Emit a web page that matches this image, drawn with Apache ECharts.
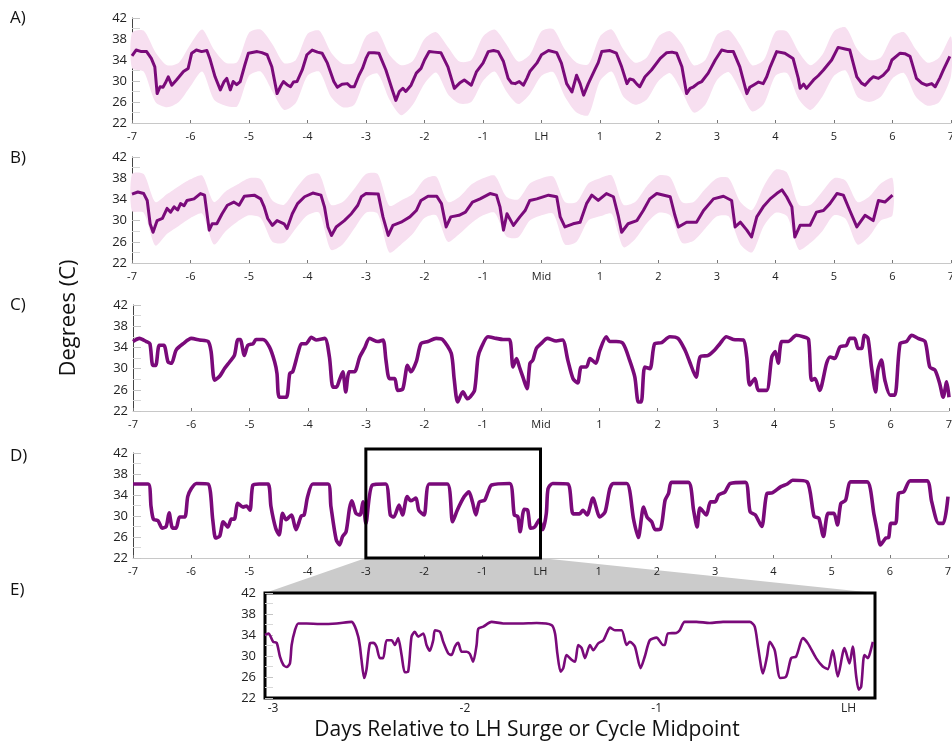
<!DOCTYPE html>
<html><head><meta charset="utf-8">
<script src="https://cdn.jsdelivr.net/npm/echarts@6/dist/echarts.min.js"></script>
<style>html,body{margin:0;padding:0;background:#fff}#c{width:952px;height:746px}</style>
</head><body><div id="c"></div>
<script>
// ---------- tick labels ----------
const xTickLH  = ['-7','-6','-5','-4','-3','-2','-1','LH','1','2','3','4','5','6','7'];
const xTickMid = ['-7','-6','-5','-4','-3','-2','-1','Mid','1','2','3','4','5','6','7'];
const eTickValues = [-3, -2, -1, 0];
const eTickLabels = ['-3', '-2', '-1', 'LH'];
const yTicks = [22, 26, 30, 34, 38, 42];
const panelLetters = ['A)', 'B)', 'C)', 'D)', 'E)'];

// ---------- Panel A: mean and band ----------
const aDays = [-7.00,-6.93,-6.84,-6.75,-6.67,-6.61,-6.57,-6.52,-6.47,-6.43,
-6.38,-6.32,-6.24,-6.18,-6.12,-6.04,-5.98,-5.90,-5.81,-5.72,
-5.67,-5.58,-5.49,-5.43,-5.38,-5.32,-5.27,-5.21,-5.15,-5.07,
-5.01,-4.86,-4.78,-4.69,-4.61,-4.52,-4.46,-4.41,-4.35,-4.29,
-4.24,-4.18,-4.09,-4.01,-3.92,-3.83,-3.75,-3.66,-3.55,-3.49,
-3.41,-3.32,-3.26,-3.20,-3.12,-3.06,-3.00,-2.95,-2.86,-2.78,
-2.66,-2.55,-2.49,-2.43,-2.37,-2.32,-2.23,-2.14,-2.06,-2.00,
-1.92,-1.83,-1.72,-1.60,-1.49,-1.40,-1.32,-1.20,-1.11,-1.00,
-0.91,-0.82,-0.74,-0.65,-0.57,-0.51,-0.45,-0.38,-0.31,-0.25,
-0.20,-0.08,0.00,0.12,0.26,0.34,0.43,0.52,0.60,0.66,
0.72,0.80,0.91,0.97,1.03,1.17,1.28,1.37,1.46,1.51,
1.57,1.63,1.68,1.77,1.88,2.03,2.14,2.23,2.31,2.40,
2.48,2.54,2.60,2.68,2.74,2.85,2.97,3.08,3.19,3.28,
3.39,3.51,3.56,3.62,3.71,3.79,3.85,3.91,4.02,4.16,
4.30,4.39,4.42,4.48,4.53,4.65,4.73,4.82,4.96,5.07,
5.19,5.27,5.39,5.47,5.53,5.61,5.67,5.76,5.84,5.93,
5.99,6.13,6.21,6.30,6.41,6.50,6.58,6.67,6.73,6.81,
6.87,6.98];
const aMean = [34.8,35.9,35.6,35.6,34.3,32.7,27.6,28.9,28.8,29.6,
30.8,29.2,30.2,31.0,31.8,32.4,35.3,35.9,35.6,35.8,
34.3,30.8,28.3,29.8,30.5,28.3,29.9,29.3,29.9,33.1,
35.3,35.6,35.4,35.0,32.7,27.6,29.0,29.9,29.3,28.9,
29.8,29.9,32.1,35.0,35.9,35.5,35.3,33.4,29.9,28.8,
29.4,29.5,28.9,28.9,31.1,32.4,34.3,35.4,35.4,35.3,
32.1,28.3,26.3,28.0,28.6,28.0,29.2,31.5,32.4,34.0,
35.6,35.5,35.4,32.7,28.6,29.6,30.2,29.2,31.8,33.4,
35.6,35.8,35.6,33.7,30.5,29.6,29.5,29.9,29.2,30.5,
31.8,33.4,35.0,35.8,35.4,33.4,29.5,27.9,31.1,29.5,
27.3,29.5,32.1,33.5,35.6,35.8,35.3,32.7,29.5,30.4,
30.2,29.4,28.9,30.8,32.1,34.3,35.4,35.5,35.3,32.7,
27.6,28.6,28.9,29.6,29.9,31.5,34.0,35.9,35.6,35.6,
32.7,27.6,28.8,29.2,29.8,29.5,30.8,32.7,35.6,35.3,
34.3,30.5,28.6,29.4,28.6,30.2,31.0,32.1,34.0,36.4,
36.1,35.9,30.8,29.6,29.2,30.2,30.8,30.5,31.1,32.2,
34.0,35.3,35.2,34.7,30.5,29.6,29.2,29.5,28.9,30.6,
32.1,34.7];
const aBandDays = [-7.0,-6.8,-6.6,-6.4,-6.2,-6.0,-5.8,-5.6,-5.4,-5.2,
-5.0,-4.8,-4.6,-4.4,-4.2,-4.0,-3.8,-3.6,-3.4,-3.2,
-3.0,-2.8,-2.6,-2.4,-2.2,-2.0,-1.8,-1.6,-1.4,-1.2,
-1.0,-0.8,-0.6,-0.4,-0.2,0.0,0.2,0.4,0.6,0.8,
1.0,1.2,1.4,1.6,1.8,2.0,2.2,2.4,2.6,2.8,
3.0,3.2,3.4,3.6,3.8,4.0,4.2,4.4,4.6,4.8,
5.0,5.2,5.4,5.6,5.8,6.0,6.2,6.4,6.6,6.8,7.0];
const aBandHi = [39.2,39.6,35.5,33.0,33.5,37.0,39.8,36.0,33.5,33.6,
39.2,39.8,37.0,33.4,34.0,39.0,39.6,35.5,33.3,33.5,
38.5,39.4,35.0,33.0,33.8,38.0,39.3,36.5,33.7,34.0,
38.5,39.8,37.0,33.7,35.0,39.5,39.9,36.0,33.5,33.2,
38.5,39.8,36.0,33.5,34.5,38.5,39.5,37.0,33.0,34.0,
38.8,39.7,36.8,33.0,34.0,39.4,39.4,35.5,33.0,35.0,
39.5,40.2,36.0,34.0,34.5,38.5,39.3,36.0,33.5,34.5,38.5];
const aBandLo = [32.5,31.8,26.0,25.0,26.0,29.0,31.8,26.5,25.3,25.2,
31.0,31.8,28.0,24.5,25.8,31.0,31.8,27.0,25.0,25.5,
30.5,31.4,26.5,23.5,25.5,29.5,31.6,27.5,25.7,26.0,
30.0,31.8,28.0,25.6,27.5,31.0,31.7,27.0,24.0,23.5,
30.0,31.8,27.0,25.5,26.5,30.0,31.5,28.0,24.0,25.5,
30.2,31.7,28.0,24.2,25.6,31.0,31.5,26.5,24.5,27.0,
31.0,32.0,27.0,26.0,27.0,30.5,31.5,27.0,25.3,26.0,31.0];

// ---------- Panel B: mean and band ----------
const bDays = [-7.00,-6.90,-6.80,-6.74,-6.69,-6.64,-6.57,-6.48,-6.40,-6.34,
-6.28,-6.22,-6.17,-6.11,-6.06,-5.94,-5.83,-5.76,-5.68,-5.63,
-5.55,-5.46,-5.37,-5.26,-5.17,-5.08,-4.91,-4.80,-4.74,-4.68,
-4.60,-4.52,-4.40,-4.35,-4.26,-4.17,-4.05,-3.91,-3.77,-3.71,
-3.65,-3.59,-3.51,-3.37,-3.25,-3.14,-3.08,-3.00,-2.79,-2.71,
-2.62,-2.54,-2.40,-2.25,-2.14,-2.06,-1.94,-1.79,-1.71,-1.63,
-1.55,-1.41,-1.30,-1.18,-1.05,-0.88,-0.77,-0.71,-0.65,-0.59,
-0.48,-0.37,-0.28,-0.20,-0.08,0.12,0.26,0.32,0.40,0.54,
0.66,0.77,0.86,0.97,1.11,1.23,1.31,1.37,1.48,1.63,
1.74,1.85,1.97,2.20,2.28,2.34,2.48,2.65,2.77,2.94,
3.11,3.25,3.31,3.40,3.51,3.59,3.68,3.79,3.91,4.02,
4.11,4.19,4.28,4.33,4.42,4.59,4.70,4.82,4.93,5.05,
5.16,5.27,5.39,5.53,5.67,5.76,5.87,6.00];
const bMean = [35.0,35.4,35.1,33.8,29.4,27.8,30.0,30.4,32.3,31.6,
32.6,32.0,33.2,32.8,33.8,34.1,35.1,34.8,28.2,29.4,
29.4,31.3,32.9,33.5,32.9,34.6,34.8,34.1,32.6,30.4,
29.1,30.0,29.4,28.5,31.3,33.2,34.5,35.2,34.8,32.6,
28.8,27.2,28.8,30.0,31.3,32.9,34.5,35.1,35.0,30.7,
27.2,29.1,29.7,30.7,31.9,33.8,34.6,34.6,33.2,28.8,
30.7,31.0,31.6,33.5,34.1,35.1,34.8,32.6,28.2,31.3,
29.1,30.7,31.9,33.8,34.1,34.8,34.5,30.7,28.8,29.4,
29.7,33.2,34.8,33.8,35.1,34.5,31.0,27.8,29.4,30.0,
31.9,34.1,35.1,34.5,31.0,28.8,29.7,29.7,31.9,34.1,
34.6,33.8,28.8,29.7,28.2,26.9,30.7,32.6,34.1,35.1,
35.8,34.5,32.6,26.9,29.1,29.1,31.6,31.9,33.2,35.1,
34.8,31.9,28.8,31.0,30.0,33.8,33.5,34.8];
const bBandDays = [-7.0,-6.8,-6.6,-6.4,-6.2,-6.0,-5.8,-5.6,-5.4,-5.2,
-5.0,-4.8,-4.6,-4.4,-4.2,-4.0,-3.8,-3.6,-3.4,-3.2,
-3.0,-2.8,-2.6,-2.4,-2.2,-2.0,-1.8,-1.6,-1.4,-1.2,
-1.0,-0.8,-0.6,-0.4,-0.2,0.0,0.2,0.4,0.6,0.8,
1.0,1.2,1.4,1.6,1.8,2.0,2.2,2.4,2.6,2.8,
3.0,3.2,3.4,3.6,3.8,4.0,4.2,4.4,4.6,4.8,
5.0,5.2,5.4,5.6,5.8,6.0];
const bBandHi = [38.8,38.8,33.5,35.0,36.5,37.8,38.5,33.5,35.5,36.8,
38.0,37.8,33.8,33.0,36.0,38.5,38.8,33.0,33.5,36.0,
38.8,38.8,32.8,33.8,35.0,37.8,38.3,33.5,34.5,36.8,
38.0,38.5,34.5,34.0,37.0,38.0,38.3,33.5,33.5,37.0,
38.0,38.5,33.0,33.5,36.5,38.5,38.2,33.5,33.5,36.0,
38.0,38.0,33.5,32.0,36.5,39.6,39.0,33.0,33.0,35.5,
38.0,37.5,33.5,34.5,37.0,38.0];
const bBandLo = [31.8,31.5,25.3,27.5,29.0,30.5,31.3,25.5,28.0,29.8,
31.0,30.5,26.0,25.8,28.5,31.0,31.5,24.5,25.5,28.5,
31.5,31.3,24.0,25.5,27.5,30.5,31.0,26.0,27.5,29.5,
31.0,31.5,27.0,26.8,30.0,31.0,31.3,25.5,26.0,30.0,
30.8,31.3,25.0,26.5,29.5,31.5,31.0,25.8,26.2,28.5,
30.8,30.8,25.5,24.0,29.0,31.5,30.8,24.5,25.8,28.0,
31.0,30.3,25.5,27.0,30.0,31.0];

// ---------- Panel C ----------
const cDays = [-7.00,-6.89,-6.77,-6.71,-6.66,-6.61,-6.55,-6.47,-6.40,-6.34,
-6.26,-6.14,-6.00,-5.86,-5.71,-5.66,-5.60,-5.51,-5.43,-5.34,
-5.26,-5.20,-5.16,-5.09,-5.03,-4.94,-4.89,-4.77,-4.66,-4.57,
-4.53,-4.49,-4.37,-4.31,-4.26,-4.17,-4.11,-4.03,-3.94,-3.86,
-3.71,-3.63,-3.57,-3.51,-3.46,-3.40,-3.35,-3.29,-3.20,-3.11,
-3.03,-2.94,-2.80,-2.71,-2.66,-2.60,-2.51,-2.46,-2.37,-2.29,
-2.23,-2.14,-2.06,-1.94,-1.80,-1.69,-1.54,-1.49,-1.43,-1.34,
-1.26,-1.22,-1.14,-1.08,-1.02,-0.91,-0.77,-0.65,-0.54,-0.48,
-0.42,-0.37,-0.31,-0.24,-0.19,-0.14,-0.08,0.00,0.11,0.26,
0.37,0.46,0.55,0.63,0.69,0.78,0.84,0.94,1.01,1.12,
1.18,1.29,1.41,1.52,1.61,1.67,1.72,1.78,1.87,1.95,
2.07,2.21,2.35,2.47,2.55,2.66,2.73,2.87,2.98,3.07,
3.18,3.30,3.47,3.53,3.58,3.67,3.73,3.87,3.96,4.02,
4.07,4.13,4.24,4.38,4.50,4.59,4.64,4.70,4.78,4.90,
4.96,5.04,5.13,5.24,5.30,5.38,5.44,5.50,5.55,5.61,
5.67,5.74,5.78,5.84,5.90,5.99,6.07,6.16,6.27,6.36,
6.47,6.59,6.67,6.76,6.84,6.90,6.96,7.00];
const cTemp = [35.1,35.7,35.1,34.7,30.6,30.6,34.4,34.4,31.3,31.0,
33.5,34.7,35.7,35.4,35.1,33.2,27.8,28.6,30.0,31.3,
32.5,35.5,35.5,32.5,34.4,34.7,35.5,35.5,34.1,31.3,
29.1,24.6,24.6,29.1,29.4,32.9,34.7,34.7,35.9,35.4,
35.7,32.2,26.5,26.5,27.8,29.4,25.6,29.4,29.4,32.2,
33.8,35.7,35.1,35.4,31.6,28.1,28.1,25.9,26.2,30.6,
29.4,31.3,34.7,35.1,35.7,35.5,32.9,28.1,23.7,25.6,
24.3,24.6,25.9,32.2,34.1,36.0,35.7,35.5,35.5,30.3,
31.9,30.3,28.4,26.2,31.0,31.6,33.8,34.7,35.7,35.2,
35.4,31.6,28.1,27.3,30.3,30.3,31.9,31.0,33.5,36.0,
35.1,35.1,34.7,31.6,28.4,23.7,23.7,30.3,30.0,34.7,
34.9,36.0,35.7,33.5,31.3,28.4,32.2,32.5,33.5,34.7,
36.0,35.5,35.4,32.2,26.9,28.1,25.9,25.9,32.2,33.2,
31.0,35.1,35.1,36.3,36.0,35.5,27.8,28.1,25.9,31.0,
32.2,31.9,34.1,34.4,35.7,35.7,33.8,33.8,36.3,35.7,
30.3,25.6,29.7,31.6,27.8,25.0,25.0,34.7,35.1,36.3,
35.7,35.1,30.3,29.7,27.2,24.6,27.5,24.6];

// ---------- Panel D ----------
const dDays = [-7.00,-6.74,-6.69,-6.65,-6.57,-6.50,-6.43,-6.38,-6.32,-6.26,
-6.20,-6.11,-6.06,-6.00,-5.91,-5.71,-5.63,-5.58,-5.51,-5.45,
-5.37,-5.31,-5.26,-5.20,-5.11,-5.05,-4.99,-4.94,-4.83,-4.68,
-4.63,-4.55,-4.49,-4.43,-4.37,-4.28,-4.20,-4.11,-4.06,-4.00,
-3.91,-3.65,-3.60,-3.51,-3.45,-3.40,-3.34,-3.28,-3.24,-3.17,
-3.10,-3.05,-3.00,-2.89,-2.66,-2.58,-2.52,-2.43,-2.37,-2.29,
-2.23,-2.14,-2.09,-2.00,-1.91,-1.60,-1.51,-1.43,-1.31,-1.23,
-1.17,-1.11,-1.05,-0.96,-0.90,-0.84,-0.53,-0.45,-0.39,-0.35,
-0.28,-0.22,-0.17,-0.10,-0.02,0.04,0.10,0.13,0.21,0.47,
0.56,0.67,0.73,0.80,0.90,1.02,1.11,1.19,1.25,1.48,
1.60,1.68,1.77,1.83,1.91,1.97,2.06,2.14,2.20,2.25,
2.54,2.63,2.69,2.74,2.85,2.92,3.00,3.06,3.17,3.26,
3.52,3.60,3.69,3.80,3.89,3.98,4.13,4.24,4.33,4.58,
4.70,4.78,4.86,4.94,5.04,5.10,5.16,5.24,5.33,5.61,
5.73,5.78,5.84,5.93,5.98,6.02,6.10,6.15,6.24,6.35,
6.64,6.72,6.84,6.92,7.00];
const dTemp = [36.1,36.1,31.8,29.4,29.1,27.7,28.0,30.6,27.7,27.7,
29.8,29.8,33.7,35.2,36.2,36.1,29.3,25.8,26.2,28.9,
27.9,29.4,29.4,32.4,31.7,31.9,31.1,35.9,36.1,36.1,
31.8,27.7,26.4,30.5,29.3,30.2,27.4,30.0,30.2,33.7,
36.1,36.1,31.8,25.5,24.5,26.1,27.0,31.5,32.9,30.5,
30.2,32.7,28.6,35.9,36.1,30.2,29.8,32.1,30.2,33.7,
32.9,33.4,31.1,30.2,36.1,36.1,28.9,31.1,33.7,34.6,
32.7,30.2,32.7,33.0,34.6,35.9,36.2,30.2,29.9,27.0,
31.3,31.1,27.7,27.9,29.3,27.4,30.5,35.2,36.2,36.1,
30.4,30.4,31.1,30.2,33.4,29.8,30.8,35.2,36.2,36.2,
29.3,25.9,31.7,29.8,28.9,27.4,27.5,33.0,34.3,36.4,
36.4,31.1,27.9,31.5,30.2,32.7,32.7,34.0,34.6,36.2,
36.4,30.8,30.2,28.0,34.3,34.4,35.6,36.1,36.8,36.5,
29.9,29.6,26.1,30.5,30.5,28.3,32.4,33.0,36.5,36.5,
30.2,27.4,24.5,25.8,25.9,28.6,28.6,34.3,34.6,36.7,
36.7,32.7,28.6,28.6,33.7];

// ---------- Panel E (zoom of D, -3 .. LH) ----------
const eRange = [-3.042, 0.138];
const eDays = [-3.042,-3.024,-2.999,-2.981,-2.964,-2.946,-2.929,-2.912,-2.903,-2.886,
-2.868,-2.825,-2.756,-2.669,-2.591,-2.573,-2.556,-2.547,-2.539,-2.525,
-2.513,-2.495,-2.478,-2.461,-2.443,-2.426,-2.408,-2.382,-2.365,-2.348,
-2.330,-2.313,-2.296,-2.278,-2.261,-2.243,-2.217,-2.200,-2.183,-2.165,
-2.156,-2.130,-2.113,-2.087,-2.070,-2.052,-2.035,-2.017,-1.991,-1.974,
-1.957,-1.939,-1.930,-1.904,-1.861,-1.800,-1.713,-1.626,-1.548,-1.530,
-1.518,-1.501,-1.487,-1.470,-1.444,-1.426,-1.409,-1.391,-1.374,-1.348,
-1.331,-1.305,-1.278,-1.261,-1.244,-1.218,-1.183,-1.157,-1.140,-1.114,
-1.084,-1.062,-1.036,-1.001,-0.967,-0.958,-0.941,-0.898,-0.880,-0.854,
-0.793,-0.724,-0.654,-0.585,-0.515,-0.489,-0.472,-0.446,-0.425,-0.411,
-0.385,-0.356,-0.325,-0.299,-0.273,-0.238,-0.212,-0.169,-0.134,-0.108,
-0.082,-0.056,-0.021,0.005,0.022,0.040,0.053,0.066,0.083,0.101,
0.109,0.127];
const eTemp = [34.0,34.3,32.7,32.5,29.9,28.3,27.9,28.6,32.1,34.9,
36.2,36.2,36.1,36.2,36.5,35.6,33.7,31.8,29.3,25.8,
27.4,32.4,32.5,31.8,29.6,29.6,33.0,33.0,32.1,33.4,
30.2,26.9,27.0,33.7,34.6,33.7,34.3,32.1,31.0,33.0,
34.9,34.6,32.7,30.5,30.2,31.8,32.5,30.8,30.8,30.4,
28.9,32.1,35.2,35.6,36.5,36.2,36.2,36.3,35.9,34.3,
30.5,27.0,27.7,30.2,29.3,28.9,32.1,31.5,29.6,32.1,
31.1,32.4,33.0,34.3,35.4,34.9,34.9,32.1,32.7,31.8,
27.7,29.9,33.0,33.5,32.1,32.1,34.3,34.4,34.9,36.5,
36.5,36.3,36.5,36.5,36.5,35.6,31.8,26.7,29.9,32.7,
31.1,25.8,26.1,29.6,29.9,33.4,32.4,29.6,28.0,27.5,
31.1,26.1,31.5,28.6,31.8,26.1,23.6,24.2,30.2,29.6,
30.2,32.7];

// ---------- styling ----------
const PURPLE = '#7a0a7a';
const BAND = '#f7dff0';
const FONT = 'Open Sans';

const grids = [
  {left: 132, top: 18,  width: 819, height: 105},
  {left: 132, top: 157, width: 819, height: 106},
  {left: 133, top: 305, width: 816, height: 106},
  {left: 133, top: 453, width: 815, height: 105},
  {left: 265, top: 593, width: 610, height: 105, show: true, borderColor: '#000', borderWidth: 3, backgroundColor: 'transparent'}
].map(g => Object.assign({outerBoundsMode: 'none', containLabel: false}, g));

function mainX(i, labels) {
  return {
    type: 'value', gridIndex: i, min: -7, max: 7, interval: 1,
    axisLine: {show: true, onZero: false, lineStyle: {color: '#c8c8c8', width: 1}},
    axisTick: {show: true, inside: true, length: 3, lineStyle: {color: '#777'}},
    axisLabel: {fontSize: 11, color: '#222', margin: 8, fontFamily: FONT, showMinLabel: true, showMaxLabel: true,
      formatter: v => labels[Math.round(v) + 7]},
    splitLine: {show: false}
  };
}
function mainY(i, showLine) {
  return {
    type: 'value', gridIndex: i, min: yTicks[0], max: yTicks[yTicks.length - 1], interval: 4,
    axisLine: {show: showLine, onZero: false, lineStyle: {color: '#444', width: 1}},
    axisTick: {show: true, inside: true, length: 8, lineStyle: {color: '#c4c4c4'}},
    minorTick: {show: true, splitNumber: 2, length: 8, lineStyle: {color: '#d8d8d8'}},
    axisLabel: {fontSize: 13, color: '#222', margin: showLine ? 5 : 9, fontFamily: FONT},
    splitLine: {show: false}
  };
}

const xAxes = [mainX(0, xTickLH), mainX(1, xTickMid), mainX(2, xTickMid), mainX(3, xTickLH), {
  type: 'value', gridIndex: 4, min: eRange[0], max: eRange[1],
  axisLine: {show: false, onZero: false}, axisTick: {show: false},
  axisLabel: {fontSize: 12, color: '#222', margin: 5, fontFamily: FONT, customValues: eTickValues,
    formatter: v => eTickLabels[eTickValues.indexOf(Math.round(v))] || ''},
  splitLine: {show: false}
}];
const yAxes = [mainY(0, true), mainY(1, true), mainY(2, true), mainY(3, true), mainY(4, false)];

function pairs(xs, ys) { return xs.map((x, i) => [x, ys[i]]); }
// band between lo and hi, drawn as one polygon through the axis scales
function band(idx, xs, lo, hi) {
  return {
    type: 'custom', xAxisIndex: idx, yAxisIndex: idx, silent: true, z: 1,
    data: xs.map((x, i) => [x, lo[i], hi[i]]),
    encode: {x: 0, y: [1, 2]},
    renderItem: function (params, api) {
      if (params.dataIndex !== 0) return null;
      const top = xs.map((x, i) => api.coord([x, hi[i]]));
      const bot = xs.map((x, i) => api.coord([x, lo[i]])).reverse();
      return {type: 'polygon', shape: {points: top.concat(bot), smooth: 0.25}, style: {fill: BAND}};
    }
  };
}
function trace(idx, xs, ys, width, smooth) {
  return {type: 'line', xAxisIndex: idx, yAxisIndex: idx, data: pairs(xs, ys), symbol: 'none',
    smooth: smooth, lineStyle: {color: PURPLE, width: width, join: 'round'}, silent: true, z: 3};
}

const series = [
  band(0, aBandDays, aBandLo, aBandHi),
  trace(0, aDays, aMean, 3, false),
  band(1, bBandDays, bBandLo, bBandHi),
  trace(1, bDays, bMean, 3, false),
  trace(2, cDays, cTemp, 3.6, 0.25),
  trace(3, dDays, dTemp, 3.6, 0.25),
  trace(4, eDays, eTemp, 2.6, 0.25)
];

const chart = echarts.init(document.getElementById('c'), null, {renderer: 'canvas'});
chart.setOption({
  animation: false,
  backgroundColor: '#fff',
  textStyle: {fontFamily: FONT},
  grid: grids, xAxis: xAxes, yAxis: yAxes, series: series
});

// decorations positioned through the axes
const dTL = chart.convertToPixel({gridIndex: 3}, [-3, 42]);
const dBR = chart.convertToPixel({gridIndex: 3}, [0, 22]);
const eTL = chart.convertToPixel({gridIndex: 4}, [eRange[0], 42]);
const eTR = chart.convertToPixel({gridIndex: 4}, [eRange[1], 42]);
const letterY = [18, 158, 305, 456, 590];

const graphics = [
  {type: 'polygon', z: -1, silent: true,
   shape: {points: [[dTL[0], dBR[1]], [dBR[0], dBR[1]], [eTR[0], eTR[1]], [eTL[0], eTL[1]]]},
   style: {fill: '#cbcbcb'}},
  {type: 'rect', z: 50, silent: true,
   shape: {x: dTL[0], y: dTL[1] - 4, width: dBR[0] - dTL[0], height: dBR[1] - dTL[1] + 4},
   style: {fill: 'none', stroke: '#000', lineWidth: 3}},
  {type: 'text', z: 50, x: 69, y: 318, rotation: Math.PI / 2,
   style: {text: 'Degrees (C)', fill: '#111', fontSize: 22, fontFamily: FONT, align: 'center', verticalAlign: 'middle'}},
  {type: 'text', z: 50, x: 527, y: 730,
   style: {text: 'Days Relative to LH Surge or Cycle Midpoint', fill: '#111', fontSize: 21, fontFamily: FONT, align: 'center', verticalAlign: 'middle'}}
];
panelLetters.forEach((t, i) => graphics.push({type: 'text', z: 50, x: 10, y: letterY[i],
  style: {text: t, fill: '#111', fontSize: 17, fontFamily: FONT, align: 'left', verticalAlign: 'middle'}}));
chart.setOption({graphic: graphics});
</script>
</body></html>
